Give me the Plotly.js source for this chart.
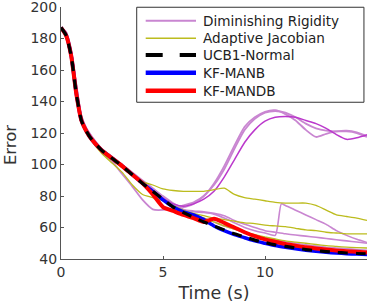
<!DOCTYPE html>
<html><head><meta charset="utf-8">
<script src="https://cdn.plot.ly/plotly-3.0.1.min.js"></script>
<style>html,body{margin:0;padding:0;background:#fff}#c{width:374px;height:306px}</style>
</head><body><div id="c"></div>
<script>
var t = [0,0.25,0.5,0.75,1,1.25,1.5,2,2.5,3,3.5,4,4.5,5,5.5,6,6.5,7,7.5,8,8.5,9,9.5,10,10.5,11,11.5,12,12.5,13,13.5,14,14.5,15];

var ucb   = [187,182,169,145,128,121,116,109,104,99,93.5,88,83,78,73,69.5,66.5,63.5,61,58.5,56,54,52,50.5,49,48,47,46,45.3,44.7,44.2,43.8,43.5,43.3];
var manb  = [187,182,169,145,128,121,116,109,104,99,93.5,88,83,77.5,73,70,68,65,61,58,55.5,53.5,51.5,50,48.6,47.5,46.5,45.6,44.9,44.3,43.8,43.4,43.1,42.9];
var mandb = [187,182,169,145,128,121,116,109,104,99,93.5,88,81,73,70.5,68,66,63.5,65.5,63,60,57,54.5,52.5,51,49.5,48.5,47.5,46.7,46,45.4,45,44.6,44.2];

var dr1 = [187,184,172,150,130,122,117,108,102,94,86,77.5,71.5,71.2,72.3,74,76,80,88,99,112,124,130,133.5,134.5,132,128,122,117.5,119.5,121,121.5,120.5,118];
var dr2 = [187,184,173,151,131,123,118,110,105,100,94,89,84,79,75,73,75,80,87,97,110,122,129,133,134,133,130,126,123,121.5,121,121,120,117.5];
var dr3 = [187,183,171,148,129,122,117,109,104,99,93,88,83,78.5,75,73.5,75,78,83,92,103,114,122,127.5,130,130.5,130,128,126,123,119,116,117,119];
var dr4x = [0,0.25,0.5,0.75,1,1.25,1.5,2,2.5,3,3.5,4,4.5,5,5.5,6,6.5,7,7.5,8,8.5,9,9.5,10,10.5,10.8,11,11.5,12,12.5,13,13.5,14,14.5,15];
var dr4 = [187,184,172,150,130,122,117,109,104,99,94,89,84,79,75,71,70,69.5,68.5,66,63,60,58,56.5,55,75,74,71,68,65,62,58,55,52.5,50.5];
var dr5 = [187,184,172,151,131,123,118,110,105,100,95,90,85,80,75.5,71.5,70.5,70,69,67.5,64.5,62,60,58,57,56,55.2,54.5,53.8,53,52.2,51.5,50.8,50];
var dr6 = [187,183,171,149,129,122,117,109,104,99.5,94,89,84,79,74.5,70,68,66,63.5,61,59,57,55,53.5,52,51,50,49,48.2,47.5,47,46.5,46,45.5];

var aj1 = [187,182,169,145,128,121,116,108,103,98,93,89,87,84.5,83.5,83,83,83,84,85,81,79,78,77,76,75.5,75.5,75.5,74,71,68,67,66,64.5];
var aj2 = [187,182,169,145,128,121,115,107,101,95,87,81,79,77,73,70.5,69,67.5,66,65,64,63,62.5,61.5,61,60.5,59.5,58.5,58,57,56.5,56,56,56];
var aj3 = [187,182,169,145,128,121,116,108,103,98,93,88,83,78,74,71,68.5,66,63.5,61,59,57,55.5,54,52.7,51.5,50.7,50,49.2,48.5,48,47.5,47.2,47];

var legendNames = ['Diminishing Rigidity', 'Adaptive Jacobian', 'UCB1-Normal', 'KF-MANB', 'KF-MANDB'];
var yTicks = [40,60,80,100,120,140,160,180,200];
var xTicks = [0,5,10];

var DRc = '#c986d1', DRm = '#bb38cc', AJc = '#bcbc1e';
function ln(x, y, name, color, width, dash) {
  return {x: x, y: y, type: 'scatter', mode: 'lines', name: name,
    line: {color: color, width: width, dash: dash || 'solid', shape: 'spline', smoothing: 0.6},
    showlegend: false, hoverinfo: 'skip'};
}
var data = [
  ln(t, dr5, legendNames[0], DRc, 1.6),
  ln(t, dr6, legendNames[0], DRc, 1.6),
  ln(dr4x, dr4, legendNames[0], DRc, 1.6),
  ln(t, dr2, legendNames[0], DRc, 1.8),
  ln(t, dr1, legendNames[0], DRc, 1.8),
  ln(t, dr3, legendNames[0], DRm, 1.5),
  ln(t, aj1, legendNames[1], AJc, 1.3),
  ln(t, aj2, legendNames[1], AJc, 1.3),
  ln(t, aj3, legendNames[1], AJc, 1.3),
  ln(t, manb, legendNames[3], '#0000ff', 3.5),
  ln(t, mandb, legendNames[4], '#ff0000', 4),
  ln(t, ucb, legendNames[2], '#000000', 3.2, '10px,8px')
];

// manual legend (paper coordinates of the plot area)
var legStyles = [
  {color: DRc, width: 2, dash: 'solid'},
  {color: AJc, width: 1.4, dash: 'solid'},
  {color: '#000000', width: 4, dash: '17px,17px'},
  {color: '#0000ff', width: 4.5, dash: 'solid'},
  {color: '#ff0000', width: 4.5, dash: 'solid'}
];
var rowY = [0.9456, 0.8758, 0.8095, 0.7393, 0.6679];
var shapes = [{type: 'rect', xref: 'paper', yref: 'paper', x0: 0.2474, x1: 0.990, y0: 0.622, y1: 0.999,
  line: {color: '#333', width: 1}, fillcolor: '#ffffff', layer: 'above'}];
var annotations = [];
legendNames.forEach(function (n, i) {
  shapes.push({type: 'line', xref: 'paper', yref: 'paper', x0: 0.2768, x1: 0.4412, y0: rowY[i], y1: rowY[i],
    line: legStyles[i], layer: 'above'});
  annotations.push({xref: 'paper', yref: 'paper', x: 0.4575, y: rowY[i], xanchor: 'left', yanchor: 'middle',
    text: n, showarrow: false, font: {family: 'DejaVu Sans', size: 13.6, color: '#222'}});
});
annotations.push({xref: 'paper', yref: 'paper', x: -0.165, y: 0.45, xanchor: 'center', yanchor: 'middle',
  text: 'Error', textangle: -90, showarrow: false, font: {family: 'DejaVu Sans', size: 16.5, color: '#333'}});

var ax = {showgrid: false, zeroline: false, showline: true, linecolor: '#555', linewidth: 1,
  ticks: 'inside', ticklen: 3, tickcolor: '#555', ticklabeloverflow: 'allow',
  tickfont: {family: 'DejaVu Sans', size: 14, color: '#333'}};
var layout = {
  width: 374, height: 306,
  margin: {l: 61, r: 7, t: 7, b: 47},
  paper_bgcolor: '#fff', plot_bgcolor: '#fff',
  font: {family: 'DejaVu Sans', color: '#333'},
  xaxis: Object.assign({}, ax, {range: [0, 15], tickvals: xTicks, ticktext: xTicks.map(String),
    title: {text: 'Time (s)', font: {family: 'DejaVu Sans', size: 17.5, color: '#333'}, standoff: 7}}),
  yaxis: Object.assign({}, ax, {range: [40, 200.05], tickvals: yTicks, ticktext: yTicks.map(String)}),
  shapes: shapes,
  annotations: annotations,
  showlegend: false
};
Plotly.newPlot('c', data, layout, {staticPlot: true, displayModeBar: false});
</script></body></html>
